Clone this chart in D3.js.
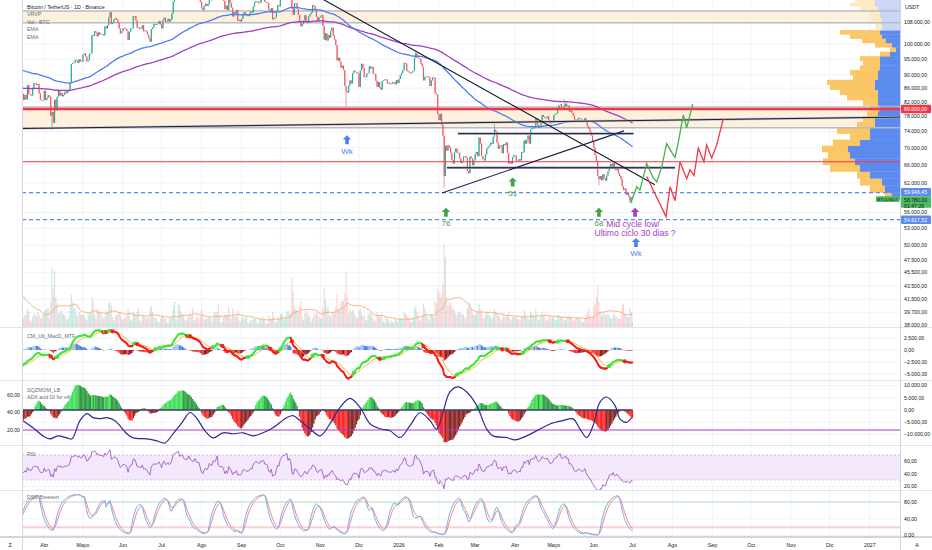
<!DOCTYPE html>
<html><head><meta charset="utf-8">
<script src="https://cdn.jsdelivr.net/npm/d3@7/dist/d3.min.js"></script>
<style>
html,body{margin:0;padding:0;background:#fff;}
svg{display:block;}
text{font-family:"Liberation Sans",Arial,Helvetica,sans-serif;}
</style></head>
<body>
<svg id="chart" width="932" height="550"></svg>
<script>
// ================= DATA =================
// Daily closes in thousand USDT, from 2025-01-01 (first ~2.5 months are indicator warm-up, off screen)
const closes2025 = [
94.6,96.9,98.1,98.2,98.3,102.1,96.9,95.0,92.5,94.7,94.5,94.5,94.5,96.5,100.5,99.9,104.1,104.4,101.1,102.0,106.1,103.6,103.9,104.8,104.7,102.6,102.0,101.3,103.7,104.7,102.4,
100.6,97.7,101.4,97.9,96.6,96.5,96.5,96.5,96.4,97.4,95.8,97.8,96.6,97.5,97.6,96.1,95.8,95.5,96.6,98.3,96.1,96.6,96.3,91.5,88.7,84.7,84.4,84.4,
86.0,94.3,86.1,87.2,90.6,89.9,86.7,86.2,80.7,78.5,82.9,83.7,81.1,84.0,84.3,82.6,84.0,82.7,86.9,84.2,84.1,83.8,86.1,87.5,87.4,86.9,87.2,84.4,82.6,82.4,82.5,
85.2,82.5,83.1,83.9,83.5,78.2,79.2,76.3,82.6,79.6,83.4,85.3,83.8,84.6,83.6,84.0,84.9,84.5,85.1,85.2,87.5,93.4,93.7,93.9,94.7,94.6,93.8,95.0,94.3,94.2,
96.5,96.9,95.9,94.3,94.7,96.8,97.0,103.2,102.9,104.6,104.1,102.8,104.2,103.5,103.7,103.5,103.1,106.4,105.6,106.8,109.7,111.7,107.3,107.8,109.0,109.4,108.9,107.8,105.6,103.9,104.6,
105.7,105.8,105.4,104.7,101.5,104.3,105.6,105.7,110.2,110.2,108.6,105.9,106.0,105.4,105.5,106.8,104.6,104.9,104.6,103.3,102.1,100.9,105.4,106.0,107.3,106.9,107.1,107.3,108.4,107.1,
105.7,108.8,109.6,108.0,108.2,109.2,108.2,108.9,111.3,115.9,117.5,117.4,119.1,119.8,117.7,118.7,119.3,117.9,117.3,117.4,117.4,119.9,118.6,118.3,117.6,117.9,119.4,118.0,117.9,117.8,115.7,
113.2,112.5,114.2,115.0,114.1,115.0,117.5,116.6,116.5,119.3,118.7,120.1,123.3,118.3,117.4,117.5,117.5,116.2,112.9,114.3,112.5,116.9,115.4,113.5,110.1,111.8,111.2,112.6,108.4,108.8,108.2,
109.2,111.2,111.7,110.7,110.7,110.2,111.1,112.0,111.5,113.9,115.5,116.1,115.9,115.3,115.4,116.8,116.5,117.1,115.7,115.7,115.3,112.7,112.0,113.3,109.0,109.6,109.6,112.1,114.4,114.0,
118.6,120.6,122.3,122.4,123.5,124.8,121.4,123.3,121.7,113.2,110.7,115.2,115.3,113.0,110.7,108.2,106.4,107.2,108.6,110.5,108.3,107.6,110.1,111.0,111.6,114.5,114.1,112.9,110.0,108.3,109.6,
110.1,110.6,106.5,101.6,103.9,101.3,103.3,102.3,104.7,105.9,103.0,101.7,99.7,94.6,95.5,94.2,92.2,92.9,91.5,86.6,85.1,84.7,86.8,88.3,87.4,90.5,91.3,90.9,90.8,90.4,
86.3,91.3,93.5,92.1,89.4,89.3,90.4,90.6,92.7,92.0,92.5,90.3,90.3,88.2,86.4,87.8,86.1,85.5,88.1,88.3,88.6,88.6,87.4,87.6,87.2,87.3,87.8,87.8,87.1,88.4,87.5];
const closes2026 = [
88.7,89.9,90.6,91.5,93.8,93.6,91.3,91.0,90.6,90.5,91.0,91.2,95.3,96.9,95.5,95.4,95.1,93.6,92.5,88.3,89.4,89.5,89.5,89.2,86.6,88.3,89.2,89.2,84.5,84.1,78.6,
77.0,78.7,75.8,73.0,63.5,70.5,69.3,70.6,70.1,68.8,67.1,66.3,68.9,69.8,68.8,68.8,67.5,66.4,66.9,67.9,68.0,67.6,64.6,64.1,67.9,67.5,65.9,67.0,
68.5,69.0,68.0,72.5,71.0,68.0,67.3,67.0,68.4,69.8,70.2,70.5,71.2,70.9,72.7,74.5,74.0,71.2,69.8,70.5,70.6,68.7,70.9,70.6,71.3,68.8,66.3,66.8,66.3,67.7,68.2,
68.1,66.9,66.8,67.3,67.0,69.0,68.9,71.8,71.0,72.0,73.0,71.0,74.5,74.8,74.9,75.0,77.5,75.9,75.0,75.5,76.2,78.4,77.9,77.6,77.5,78.0,77.0,76.2,76.3,76.5,
78.3,78.6,78.8,80.2,81.0,81.3,80.2,80.0,80.7,81.5,80.8,81.0,79.3,79.6,79.0,78.2,77.2,76.9,77.1,77.6,77.4,77.2,76.8,77.0,77.5,76.4,75.4,74.8,74.0,73.0,71.5,
70.0,68.2,66.9,63.5,62.8,63.5,62.6,63.9,63.0,62.5,63.6,64.5,65.6,66.2,65.5,66.4,65.0,64.8,65.3,64.1,63.5,62.8,61.3,60.5,60.8,59.5,60.0,59.2,58.3,59.0,
58.78];
// Daily volume, thousand BTC, from 2025-02-22
const volumes2025 = [
15,20,35,60,55,50,45,30,40,45,35,40,35,30,20,25,45,50,40,30,
22,12,10,14,15,22,18,8,7,12,16,14,12,18,14,10,12,15,
18,20,22,22,10,30,70,45,66,35,28,15,18,20,16,15,14,10,8,12,25,38,30,22,22,15,12,18,15,14,
15,14,10,8,14,16,15,35,30,15,10,22,20,18,15,12,10,12,20,18,28,30,25,12,8,12,14,15,18,16,10,
8,10,12,14,22,16,8,8,18,16,14,18,22,8,6,14,14,12,10,12,10,22,25,18,12,10,10,6,6,10,
12,12,10,10,5,6,10,10,14,25,30,10,8,28,25,18,15,14,8,8,10,14,16,14,22,8,8,12,12,10,12,
20,15,8,10,10,10,12,10,6,10,18,16,18,28,14,5,6,12,15,14,15,24,12,10,22,15,12,12,20,8,6,
10,12,10,10,12,5,5,8,8,10,10,10,5,5,10,8,12,10,8,4,4,14,10,10,18,12,5,6,12,10,
15,16,14,8,12,18,20,16,16,58,42,24,20,22,18,24,30,12,8,16,20,16,14,12,6,10,16,14,18,16,12,
10,10,22,46,32,22,24,14,12,16,18,18,24,40,20,20,30,32,30,40,65,35,16,22,18,20,16,14,10,12,
20,22,16,12,14,8,8,14,16,16,14,10,6,8,18,14,14,16,12,6,5,10,10,8,5,8,6,5,10,8,6];
const volumes2026 = [
8,10,10,8,18,16,14,12,10,6,6,12,22,25,18,12,8,8,14,28,22,16,12,8,14,16,14,12,30,28,45,
40,35,38,50,97,82,35,25,30,28,25,22,20,16,14,18,18,16,15,14,10,12,22,24,28,22,16,14,
14,16,18,28,22,18,10,10,14,16,16,14,12,10,14,22,18,16,14,12,8,10,14,12,12,14,18,10,8,12,12,
12,12,10,8,8,14,12,20,16,12,10,8,18,16,14,12,22,16,8,10,14,18,14,12,8,8,12,12,10,12,
12,8,8,14,14,12,12,10,8,8,12,12,14,12,10,8,8,10,12,10,10,8,6,6,10,14,16,22,14,10,12,
24,28,35,49,30,18,12,16,15,14,14,16,14,10,10,14,16,12,12,10,10,12,26,28,16,14,12,12,22,18,
6];
// notable wick extremes
const wickDates  = ["2025-04-07","2025-11-21","2026-01-14","2026-02-05","2026-03-16","2026-05-09","2026-06-05","2026-06-29"];
const wickPrices = [74500, 80600, 97900, 61000, 76000, 82800, 61500, 57900];
const ema100Seed = 86500, ema200Seed = 77000;

// axis
const priceTicks = [108000,100000,95000,90000,86000,82000,78000,74000,70000,66000,62000,56000,53000,50000,47500,45500,43500,41500,39700,38000];
const tickDates  = ["2025-04-01","2025-05-01","2025-06-01","2025-07-01","2025-08-01","2025-09-01","2025-10-01","2025-11-01","2025-12-01","2026-01-01","2026-02-01","2026-03-01","2026-04-01","2026-05-01","2026-06-01","2026-07-01","2026-08-01","2026-09-01","2026-10-01","2026-11-01","2026-12-01","2027-01-01"];
const tickLabels = ["Abr","Mayo","Jun","Jul","Ago","Sep","Oct","Nov","Dic","2026","Feb","Mar","Abr","Mayo","Jun","Jul","Ago","Sep","Oct","Nov","Dic","2027"];
const macdTicks = [2500,0,-2500,-5000];
const sqzTicks = [10000,5000,0,-5000,-10000];
const adxTicks = [60,40,20];
const rsiTicks = [60,40,20];
const dssTicks = [80,40,0];

// levels / zones
const zoneTop = [112200, 107700];
const zoneMid = [80600, 75000];
const level80 = 80000;
const levelRed = 66700;
const levelDash = [59946.45, 54617.52];

// drawings: day offsets from 2026-01-01 and prices
const longLineDay = [-292.2, 388.4], longLinePrice = [74800, 77800];
const downLineDay = [-78.8, 198.4],  downLinePrice = [122700, 61600];
const upLineDay   = [33.3, 174.4],   upLinePrice   = [59900, 74200];
const seg1Day = [45.7, 181.8], seg1Price = 73500;
const seg2Day = [37.2, 214],   seg2Price = 65350;
const greenDay = [179.6,184.3,186.8,192,196.9,199.8,203.6,207.5,211.4,214,216.5,220.4,223,227.7];
const greenPrice = [57800,61200,60500,66300,63200,62200,65500,71000,68900,67700,71300,78400,75000,81400];
const redDay = [192,207,210.1,214,217.8,223,225.6,228.7,232,236.4,238.5,242.4,246.3,251.4];
const redPrice = [63400,55200,61200,58300,66700,62900,64900,63600,69900,66700,70700,67600,70700,77400];
// arrow marks
const markDay   = [-40.3, 36.4, 88.1, 155, 183, 183.7];
const markPrice = [73100, 56900, 63200, 56900, 56900, 51300];
const markLabel = ["Wk","76","51","68","","Wk"];
const markKind  = ["blue","green","green","green","purple","blue"];
const noteDay = [181.4, 183], notePrice = [53300, 51600];
const noteText = ["Mid cycle low/","Ultimo ciclo 30 dias ?"];

// volume profile rows (58.5k upward, 1.5k per row)
const vpStart = 58500, vpStep = 1500, vaHigh = 105000;
const vpUp   = [8,15,18,30,40,45,50,52,40,30,30,25,25,22,20,22,22,22,25,25,22,22,20,20,20,10,4,8,14,18,20,18,18,18,20,20,22,25,25];
const vpDown = [7,15,22,13,30,32,22,26,27,20,33,18,12,11,10,15,31,38,45,48,25,28,20,17,20,10,6,17,24,32,40,6,7,10,10,10,18,25,20];

// ADX: day offsets from 2026-01-01
const adxDay = [-291.5,-283.7,-276,-270.5,-264.3,-257.4,-253.5,-247.3,-241.9,-237.2,-231.8,-226.4,-220.2,-210.9,-206.2,-195.3,-187.6,-181.4,-175.2,-168.2,-162,-156.6,-150.4,-144.2,-136.4,-128.7,-120.9,-113.2,-105.4,-97.7,-86.8,-82.2,-76.7,-69,-61.2,-53.5,-45.7,-38,-30.2,-22.5,-14.7,-7,0.8,8.5,16.3,24,29.2,34.1,39.5,45.7,52.5,60.2,68,72.9,83.5,89.9,99,109.3,117.1,127.1,134.9,140.3,145.5,150.4,155.8,161,167.4,171.3,176.5,180.4];
const adxVal = [30.7,22.6,13.3,9.9,13.3,11,9.9,30.7,38.8,34.2,33,34.2,30.7,15.7,11,9.9,7.5,5.2,15.7,28.4,40,33,19.1,11,16.8,15.7,16.8,13.3,16.8,22.6,34.2,36.5,30.7,21.4,13.3,27.2,45.8,56.2,45.8,27.2,21.4,19.1,11.4,24.9,39.7,30.7,21.1,40.3,63.5,69.3,63.5,48.1,21.1,13.3,11.4,8.7,13.3,21.1,26.9,30.7,32.7,21.1,11.4,24.9,51.9,57.7,48.1,32.7,28.8,34.6];

// ================= BUILD =================
const DAY = 864e5, T2025 = Date.UTC(2025,0,1), T2026 = Date.UTC(2026,0,1);
const closes = closes2025.concat(closes2026).map(v => v*1000);
const N = closes.length;
const volumes = volumes2025.concat(volumes2026);
const VOL0 = 52;          // 2025-02-22 index
const I0 = 72;            // 2025-03-14 first visible bar
const tOf = i => new Date(T2025 + i*DAY);
const dOff = d => new Date(T2026 + d*DAY);
const iso = s => new Date(s + "T00:00:00Z");

const opens = closes.map((c,i) => i ? closes[i-1] : c);
const highs = closes.map((c,i) => Math.max(c, opens[i]));
const lows  = closes.map((c,i) => Math.min(c, opens[i]));
wickDates.forEach((s,k) => {
  const i = Math.round((iso(s) - T2025)/DAY);
  if (i>=0 && i<N){ highs[i] = Math.max(highs[i], wickPrices[k]); lows[i] = Math.min(lows[i], wickPrices[k]); }
});

const x = d3.scaleUtc().domain([dOff(-(399-22)/1.29), dOff((900-399)/1.29)]).range([22,900]);
const yP = d3.scaleLog().domain([108000,38000]).range([22, 22+290*Math.log(108/38)]);
const yV = d3.scaleLinear().domain([0,100]).range([327,242]);
const yM = d3.scaleLinear().domain([-5000,2500]).range([374,338]);
const yS = d3.scaleLinear().domain([-10000,10000]).range([434.5,385.5]);
const yA = d3.scaleLinear().domain([20,60]).range([430,395]);
const yR = d3.scaleLinear().domain([30,70]).range([480,455]);
const yD = d3.scaleLinear().domain([0,80]).range([535.5,502]);

const fmt = d3.formatLocale({decimal:",",thousands:".",grouping:[3],currency:["",""],minus:"\u2212"}).format(",.2f");

function ema(a,n,seed){const k=2/(n+1);let e=(seed===undefined)?a[0]:seed;return a.map(v=>(e+=k*(v-e)));}
function sma(a,n){return a.map((v,i)=>d3.mean(a.slice(Math.max(0,i-n+1),i+1)));}

// indicators
const ema100 = ema(closes,100,ema100Seed), ema200 = ema(closes,200,ema200Seed);
const e12 = ema(closes,12), e26 = ema(closes,26);
const macd = closes.map((c,i)=>e12[i]-e26[i]);
const sig = ema(macd,9);
const hist = macd.map((m,i)=>m-sig[i]);

function rsiCalc(c,n){const o=new Array(c.length).fill(50);let g=0,l=0;for(let i=1;i<=n;i++){const d=c[i]-c[i-1];if(d>0)g+=d;else l-=d;}g/=n;l/=n;
 for(let i=n+1;i<c.length;i++){const d=c[i]-c[i-1];g=(g*(n-1)+Math.max(d,0))/n;l=(l*(n-1)+Math.max(-d,0))/n;o[i]=l===0?100:100-100/(1+g/l);}return o;}
const rsi = rsiCalc(closes,14);

function stoch(v,hi,lo,p){return v.map((c,i)=>{const s=Math.max(0,i-p+1);const hh=d3.max(hi.slice(s,i+1)),ll=d3.min(lo.slice(s,i+1));return hh>ll?100*(c-ll)/(hh-ll):50;});}
const pre = ema(stoch(closes,highs,lows,10),9);
const dss = ema(stoch(pre,pre,pre,10),9);
const dssSig = ema(dss,4);

const L = 20;
const sqSrc = closes.map((c,i)=>{const s=Math.max(0,i-L+1);const hh=d3.max(highs.slice(s,i+1)),ll=d3.min(lows.slice(s,i+1));const m=d3.mean(closes.slice(s,i+1));return c-((hh+ll)/2+m)/2;});
const sqz = sqSrc.map((v,i)=>{if(i<L-1)return 0;let sx=0,sy=0,sxy=0,sxx=0;for(let k=0;k<L;k++){const yv=sqSrc[i-L+1+k];sx+=k;sy+=yv;sxy+=k*yv;sxx+=k*k;}
 const sl=(L*sxy-sx*sy)/(L*sxx-sx*sx);const ic=(sy-sl*sx)/L;return ic+sl*(L-1);});

const volMA = (()=>{const o=[];for(let k=0;k<volumes.length;k++){o.push(d3.mean(volumes.slice(Math.max(0,k-19),k+1)));}return o;})();

// ================= DRAW =================
const svg = d3.select("#chart");
svg.append("rect").attr("width",932).attr("height",550).attr("fill","#ffffff");
const defs = svg.append("defs");
function clip(id,y0,y1){defs.append("clipPath").attr("id",id).append("rect").attr("x",22).attr("y",y0).attr("width",878).attr("height",y1-y0);}
clip("cMain",0,327); clip("cMacd",328,380); clip("cSqz",381,445); clip("cRsi",446,490); clip("cDss",491,536);

const step = x(tOf(1)) - x(tOf(0));
const GRID = "#f0f3fa";

// vertical grid
const gGrid = svg.append("g");
tickDates.forEach(s=>{const xx=x(iso(s)); gGrid.append("line").attr("x1",xx).attr("x2",xx).attr("y1",0).attr("y2",536).attr("stroke",GRID).attr("stroke-width",1);});
// horizontal grid
function hgrid(vals, sc){vals.forEach(v=>gGrid.append("line").attr("x1",22).attr("x2",900).attr("y1",sc(v)).attr("y2",sc(v)).attr("stroke",GRID));}
hgrid(priceTicks,yP); hgrid(macdTicks,yM); hgrid(sqzTicks,yS); hgrid(rsiTicks,yR); hgrid(dssTicks,yD);

// ---------- main pane ----------
const gM = svg.append("g").attr("clip-path","url(#cMain)");
[zoneTop, zoneMid].forEach(z=>{
  gM.append("rect").attr("x",22).attr("width",878).attr("y",yP(z[0])).attr("height",yP(z[1])-yP(z[0])).attr("fill","#fdf0dd");
});

// volume profile
for(let r=0;r<vpUp.length;r++){
  const lo=vpStart+r*vpStep, hi=lo+vpStep, y0=yP(hi), h=yP(lo)-yP(hi);
  const pale = lo>=vaHigh;
  gM.append("rect").attr("x",900-vpUp[r]).attr("width",vpUp[r]).attr("y",y0).attr("height",h+0.3).attr("fill",pale?"#c9d6f6":"#5b8bef");
  gM.append("rect").attr("x",900-vpUp[r]-vpDown[r]).attr("width",vpDown[r]).attr("y",y0).attr("height",h+0.3).attr("fill",pale?"#fde9c2":"#fbc665");
}

// volume bars
for(let k=0;k<volumes.length;k++){
  const i=VOL0+k; if(i<I0) continue;
  const up = closes[i]>=opens[i];
  gM.append("rect").attr("x",x(tOf(i))-step*0.4).attr("width",step*0.8).attr("y",yV(volumes[k])).attr("height",yV(0)-yV(volumes[k]))
    .attr("fill",up?"#22ab94":"#f7525f").attr("opacity",0.28);
}
gM.append("path").attr("d",d3.line().x((v,k)=>x(tOf(VOL0+k))).y(v=>yV(v))(volMA.slice(I0-VOL0)).replace(/^M[^L]*/,m=>m))
  .attr("fill","none").attr("stroke","#f6b27f").attr("stroke-width",1);
// fix: proper indices for MA path
gM.select("path:last-of-type").remove();
gM.append("path").datum(d3.range(I0-VOL0,volumes.length)).attr("d",d3.line().x(k=>x(tOf(VOL0+k))).y(k=>yV(volMA[k])))
  .attr("fill","none").attr("stroke","#f6b27f").attr("stroke-width",1);

// zone edge lines
[zoneTop[0],zoneTop[1],zoneMid[0],zoneMid[1]].forEach(p=>{
  gM.append("line").attr("x1",22).attr("x2",900).attr("y1",yP(p)).attr("y2",yP(p)).attr("stroke","#b8bbc4").attr("stroke-width",1.4);
});

// candles
for(let i=I0;i<N;i++){
  const up = closes[i]>=opens[i], col = up?"#22ab94":"#f7525f", xc=x(tOf(i));
  gM.append("line").attr("x1",xc).attr("x2",xc).attr("y1",yP(highs[i])).attr("y2",yP(lows[i])).attr("stroke",col).attr("stroke-width",0.6);
  const yt=yP(Math.max(opens[i],closes[i])), yb=yP(Math.min(opens[i],closes[i]));
  gM.append("rect").attr("x",xc-0.55).attr("width",1.1).attr("y",yt).attr("height",Math.max(0.7,yb-yt)).attr("fill",col);
}

// EMAs
const idx = d3.range(I0,N);
gM.append("path").datum(idx).attr("d",d3.line().x(i=>x(tOf(i))).y(i=>yP(ema200[i]))).attr("fill","none").attr("stroke","#a23ec2").attr("stroke-width",1.3);
gM.append("path").datum(idx).attr("d",d3.line().x(i=>x(tOf(i))).y(i=>yP(ema100[i]))).attr("fill","none").attr("stroke","#4b7cf0").attr("stroke-width",1.3);

// levels
gM.append("line").attr("x1",22).attr("x2",900).attr("y1",yP(level80)).attr("y2",yP(level80)).attr("stroke","#f23645").attr("stroke-width",2.4);
gM.append("line").attr("x1",22).attr("x2",900).attr("y1",yP(levelRed)).attr("y2",yP(levelRed)).attr("stroke","#f23645").attr("stroke-width",1);
levelDash.forEach(p=>gM.append("line").attr("x1",22).attr("x2",900).attr("y1",yP(p)).attr("y2",yP(p)).attr("stroke","#5b8bef").attr("stroke-width",1.3).attr("stroke-dasharray","4,3"));

// drawings
function seg(d,p,col,w){gM.append("line").attr("x1",x(dOff(d[0]))).attr("y1",yP(p[0])).attr("x2",x(dOff(d[1]))).attr("y2",yP(p[1])).attr("stroke",col).attr("stroke-width",w);}
seg(longLineDay,longLinePrice,"#b8bbc4",2.2); seg(longLineDay,longLinePrice,"#1c1c3c",1);
seg(seg1Day,[seg1Price,seg1Price],"#9a9ca6",2.4); seg(seg1Day,[seg1Price,seg1Price],"#1e1e4a",1);
seg(seg2Day,[seg2Price,seg2Price],"#9a9ca6",2.4); seg(seg2Day,[seg2Price,seg2Price],"#1e1e4a",1);
seg(downLineDay,downLinePrice,"#131722",1.1);
seg(upLineDay,upLinePrice,"#1e1e4a",1.1);

// projections
const projLine = d3.line().x(d=>x(dOff(d[0]))).y(d=>yP(d[1]));
gM.append("path").attr("d",projLine(greenDay.map((d,k)=>[d,greenPrice[k]]))).attr("fill","none").attr("stroke","#4caf50").attr("stroke-width",1.3);
gM.append("path").attr("d",projLine(redDay.map((d,k)=>[d,redPrice[k]]))).attr("fill","none").attr("stroke","#f23645").attr("stroke-width",1.3);

// arrows & notes
const markColor = {blue:"#4b7ff0", green:"#43a047", purple:"#a33dc6"};
markDay.forEach((d,k)=>{
  const cx=x(dOff(d)), ty=yP(markPrice[k]), c=markColor[markKind[k]];
  gM.append("path").attr("d",`M${cx},${ty} L${cx+4.2},${ty+4.2} L${cx+1.8},${ty+4.2} L${cx+1.8},${ty+9} L${cx-1.8},${ty+9} L${cx-1.8},${ty+4.2} L${cx-4.2},${ty+4.2} Z`).attr("fill",c);
  if(markLabel[k]) gM.append("text").attr("x",cx).attr("y",ty+18.5).attr("text-anchor","middle").attr("font-size",8).attr("fill",c).text(markLabel[k]);
});
noteDay.forEach((d,k)=>gM.append("text").attr("x",x(dOff(d))).attr("y",yP(notePrice[k])).attr("text-anchor","middle").attr("font-size",8.6).attr("fill","#a33dc6").text(noteText[k]));

// ---------- MACD pane ----------
const gC = svg.append("g").attr("clip-path","url(#cMacd)");
for(let i=I0;i<N;i++){
  const h=hist[i], up=h>hist[i-1];
  const col = h>0 ? (up?"#9cc7ee":"#4f7fe6") : (up?"#8e1f24":"#f23232");
  gC.append("rect").attr("x",x(tOf(i))-step*0.55).attr("width",step*1.1).attr("y",Math.min(yM(0),yM(h))).attr("height",Math.abs(yM(h)-yM(0))).attr("fill",col);
}
gC.append("path").datum(idx).attr("d",d3.line().x(i=>x(tOf(i))).y(i=>yM(sig[i]))).attr("fill","none").attr("stroke","#ffae2b").attr("stroke-width",1);
for(let i=I0+1;i<N;i++){
  const col = macd[i]>=sig[i]?"#3ce63c":"#f41e1e";
  gC.append("line").attr("x1",x(tOf(i-1))).attr("y1",yM(macd[i-1])).attr("x2",x(tOf(i))).attr("y2",yM(macd[i])).attr("stroke",col).attr("stroke-width",1.9).attr("stroke-linecap","round");
}
for(let i=I0+1;i<N;i++){
  if((macd[i]>=sig[i])!==(macd[i-1]>=sig[i-1])){
    gC.append("circle").attr("cx",x(tOf(i))).attr("cy",yM(macd[i])).attr("r",2.1).attr("fill",macd[i]>=sig[i]?"#3ce63c":"#f41e1e");
  }
}

// ---------- SQZ + ADX pane ----------
const gS = svg.append("g").attr("clip-path","url(#cSqz)");
for(let i=I0;i<N;i++){
  const v=sqz[i], up=v>sqz[i-1];
  const col = v>0 ? (up?"#45e05a":"#2f9e45") : (up?"#8c2a2a":"#f52a2a");
  gS.append("rect").attr("x",x(tOf(i))-step*0.55).attr("width",step*1.1).attr("y",Math.min(yS(0),yS(v))).attr("height",Math.abs(yS(v)-yS(0))).attr("fill",col);
}
gS.append("line").attr("x1",x(tOf(I0))).attr("x2",x(tOf(N-1))).attr("y1",yS(0)).attr("y2",yS(0)).attr("stroke","#3a3c66").attr("stroke-width",1.6);
gS.append("line").attr("x1",22).attr("x2",900).attr("y1",yA(20)).attr("y2",yA(20)).attr("stroke","#a33dc6").attr("stroke-width",1.2);
gS.append("path").attr("d",d3.line().curve(d3.curveCatmullRom).x(d=>x(dOff(d[0]))).y(d=>yA(d[1]))(adxDay.map((d,k)=>[d,adxVal[k]])))
  .attr("fill","none").attr("stroke","#2d2b8f").attr("stroke-width",1.2);

// ---------- RSI pane ----------
const gR = svg.append("g").attr("clip-path","url(#cRsi)");
gR.append("rect").attr("x",22).attr("width",878).attr("y",yR(70)).attr("height",yR(30)-yR(70)).attr("fill","#f3e8fc");
[70,30].forEach(v=>gR.append("line").attr("x1",22).attr("x2",900).attr("y1",yR(v)).attr("y2",yR(v)).attr("stroke","#c9b7dc").attr("stroke-dasharray","2,2").attr("stroke-width",0.8));
gR.append("path").datum(idx).attr("d",d3.line().x(i=>x(tOf(i))).y(i=>yR(rsi[i]))).attr("fill","none").attr("stroke","#a259c9").attr("stroke-width",0.9);

// ---------- DSS pane ----------
const gD = svg.append("g").attr("clip-path","url(#cDss)");
gD.append("line").attr("x1",22).attr("x2",900).attr("y1",yD(80)).attr("y2",yD(80)).attr("stroke","#b9e2bb").attr("stroke-width",1.2);
gD.append("line").attr("x1",22).attr("x2",900).attr("y1",yD(20)).attr("y2",yD(20)).attr("stroke","#fbd0d4").attr("stroke-width",2);
gD.append("path").datum(idx).attr("d",d3.line().x(i=>x(tOf(i))).y(i=>yD(dssSig[i]))).attr("fill","none").attr("stroke","#f7878c").attr("stroke-width",1);
gD.append("path").datum(idx).attr("d",d3.line().x(i=>x(tOf(i))).y(i=>yD(dss[i]))).attr("fill","none").attr("stroke","#78aef0").attr("stroke-width",1);

// ---------- frames ----------
const gF = svg.append("g");
gF.append("rect").attr("x",900).attr("y",0).attr("width",32).attr("height",550).attr("fill","#fff");
gF.append("rect").attr("x",0).attr("y",0).attr("width",22).attr("height",550).attr("fill","#fff");
gF.append("rect").attr("x",0).attr("y",537).attr("width",932).attr("height",13).attr("fill","#fff");
[327.5,380.5,445.5,490.5].forEach(y=>gF.append("line").attr("x1",0).attr("x2",932).attr("y1",y).attr("y2",y).attr("stroke","#e0e3eb").attr("stroke-width",1));
gF.append("line").attr("x1",0).attr("x2",932).attr("y1",537).attr("y2",537).attr("stroke","#d1d4dc").attr("stroke-width",2);
gF.append("line").attr("x1",900.5).attr("x2",900.5).attr("y1",0).attr("y2",550).attr("stroke","#d1d4dc");
gF.append("line").attr("x1",22.5).attr("x2",22.5).attr("y1",0).attr("y2",550).attr("stroke","#d1d4dc");

// right axis labels
const AX = "#131722", FS = 5.2;
function rlabels(vals,sc){vals.forEach(v=>gF.append("text").attr("x",904).attr("y",sc(v)+1.8).attr("font-size",FS).attr("fill",AX).text(fmt(v)));}
rlabels(priceTicks,yP); rlabels(macdTicks,yM); rlabels(sqzTicks,yS); rlabels(rsiTicks,yR); rlabels(dssTicks,yD);
gF.append("text").attr("x",905).attr("y",9).attr("font-size",FS).attr("fill",AX).text("USDT");
adxTicks.forEach(v=>gF.append("text").attr("x",20).attr("y",yA(v)+1.8).attr("text-anchor","end").attr("font-size",FS).attr("fill",AX).text(fmt(v)));

// price tags
function tag(p,bg,fg,lines,y0,h){
  gF.append("rect").attr("x",901).attr("y",y0).attr("width",30).attr("height",h).attr("fill",bg).attr("rx",1);
  lines.forEach((t,k)=>gF.append("text").attr("x",904).attr("y",y0+6+k*5.2).attr("font-size",FS).attr("fill",fg).text(t));
}
tag(level80,"#f23645","#fff",[fmt(level80)],yP(level80)-4.2,8.4);
tag(levelDash[0],"#5b8bef","#fff",[fmt(levelDash[0])],yP(levelDash[0])-4.6,8.4);
tag(levelDash[1],"#5b8bef","#fff",[fmt(levelDash[1])],yP(levelDash[1])-4.2,8.4);
tag(closes[N-1],"#4cbb5f","#131722",[fmt(closes[N-1]),"01:47:26"],196.3,11.5);
gF.append("rect").attr("x",876).attr("y",196.3).attr("width",23.5).attr("height",5.6).attr("fill","#4cbb5f").attr("rx",1);
gF.append("text").attr("x",887.7).attr("y",200.6).attr("text-anchor","middle").attr("font-size",4.4).attr("fill","#131722").text("BTCUSDT");

// time axis
tickDates.forEach((s,k)=>gF.append("text").attr("x",x(iso(s))).attr("y",546.5).attr("text-anchor","middle").attr("font-size",FS).attr("fill",AX).text(tickLabels[k]));
gF.append("text").attr("x",10).attr("y",546.5).attr("text-anchor","middle").attr("font-size",FS).attr("fill",AX).text("Z");
gF.append("text").attr("x",917).attr("y",546.5).attr("text-anchor","middle").attr("font-size",FS).attr("fill",AX).text("A");

// legends
const LG="#6a6d78";
gF.append("text").attr("x",27).attr("y",8.8).attr("font-size",5.3).attr("fill","#131722").text("Bitcoin / TetherUS · 1D · Binance");
[["VRVP",16.3],["Vol · BTC",23.8],["EMA",31.1],["EMA",38.5],["CM_Ult_MacD_MTF",338],["SQZMOM_LB",392],["ADX and DI for v4",399.4],["RSI",456],["DSS Bressert",499]]
  .forEach(d=>gF.append("text").attr("x",27).attr("y",d[1]).attr("font-size",5.3).attr("fill",LG).text(d[0]));
</script>
</body></html>
